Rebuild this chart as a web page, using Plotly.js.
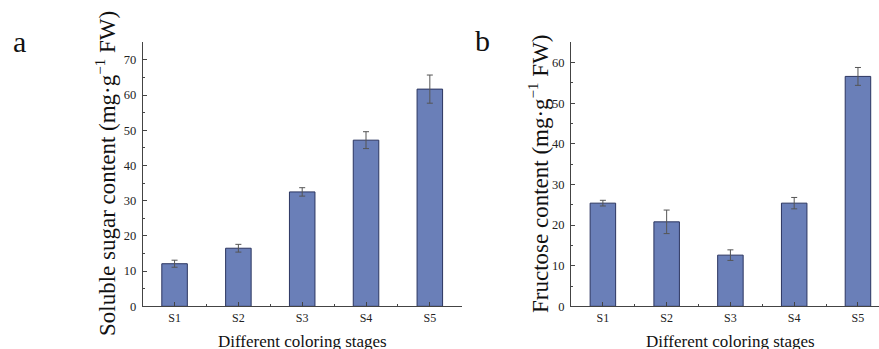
<!DOCTYPE html>
<html>
<head>
<meta charset="utf-8">
<script src="https://cdn.plot.ly/plotly-3.0.1.min.js"></script>
<style>html,body{margin:0;padding:0;background:#fff;}#chart{width:879px;height:349px;}</style>
</head>
<body>
<div id="chart"></div>
<script>
const stages = ["S1", "S2", "S3", "S4", "S5"];
const solubleSugar = [12.1, 16.5, 32.5, 47.2, 61.7];
const solubleSugarErr = [1.0, 1.1, 1.2, 2.4, 4.0];
const fructose = [25.4, 20.8, 12.6, 25.4, 56.6];
const fructoseErr = [0.7, 2.9, 1.3, 1.4, 2.2];

const idx = stages.map((s, i) => i);
const serif = "Liberation Serif, Times New Roman, serif";
const barColor = "#6a7fb8";
const lineColor = "#444";

function barTrace(vals, errs, xa, ya) {
  return {
    type: "bar", x: idx, y: vals, xaxis: xa, yaxis: ya, width: 0.4,
    marker: {color: barColor, line: {color: "#2b3560", width: 1}},
    error_y: {type: "data", array: errs, visible: true, color: "#555", thickness: 1, width: 3},
    showlegend: false, hoverinfo: "skip"
  };
}

function xAxis(domain, range, anchor) {
  return {
    domain: domain, range: range, anchor: anchor,
    tickmode: "array", tickvals: idx, ticktext: stages,
    ticks: "inside", ticklen: 4, tickcolor: lineColor, tickwidth: 1,
    minor: {tickmode: "linear", tick0: 0.5, dtick: 1, ticks: "inside", ticklen: 2, tickcolor: lineColor},
    showline: true, linecolor: lineColor, linewidth: 1,
    showgrid: false, zeroline: false,
    tickfont: {family: serif, size: 12, color: "#222"}
  };
}
function yAxis(domain, range, anchor) {
  return {
    domain: domain, range: range, anchor: anchor,
    dtick: 10, tick0: 0,
    ticks: "inside", ticklen: 4, tickcolor: lineColor, tickwidth: 1,
    minor: {dtick: 5, ticks: "inside", ticklen: 2, tickcolor: lineColor},
    showline: true, linecolor: lineColor, linewidth: 1,
    showgrid: false, zeroline: false,
    ticklabelstandoff: 3,
    tickfont: {family: serif, size: 12.5, color: "#222"}
  };
}

const yDom = [0.1223, 0.8788];
const layout = {
  width: 879, height: 349,
  margin: {l: 0, r: 0, t: 0, b: 0},
  paper_bgcolor: "#fff", plot_bgcolor: "#fff",
  bargap: 0.6,
  xaxis: xAxis([0.1623, 0.5253], [-0.5, 4.5], "y"),
  yaxis: yAxis(yDom, [0, 75], "x"),
  xaxis2: xAxis([0.6496, 1], [-0.5, 4.33], "y2"),
  yaxis2: yAxis(yDom, [0, 65], "x2"),
  annotations: [
    {text: "a", xref: "paper", yref: "paper", x: 19/879, y: 1 - 42/349, xanchor: "center", yanchor: "middle", showarrow: false, font: {family: serif, size: 30, color: "#111"}},
    {text: "b", xref: "paper", yref: "paper", x: 482/879, y: 1 - 40/349, xanchor: "center", yanchor: "middle", showarrow: false, font: {family: serif, size: 30, color: "#111"}},
    {text: "Soluble sugar content (mg·g<sup><span style='font-size:15px'>−1</span></sup> FW)", xref: "paper", yref: "paper", x: 106/879, y: 1 - 174/349, xanchor: "center", yanchor: "middle", textangle: -90, showarrow: false, font: {family: serif, size: 23, color: "#111"}},
    {text: "Fructose content (mg·g<sup><span style='font-size:15px'>−1</span></sup> FW)", xref: "paper", yref: "paper", x: 539/879, y: 1 - 174/349, xanchor: "center", yanchor: "middle", textangle: -90, showarrow: false, font: {family: serif, size: 23, color: "#111"}},
    {text: "Different coloring stages", xref: "paper", yref: "paper", x: 302/879, y: 1 - 341/349, xanchor: "center", yanchor: "middle", showarrow: false, font: {family: serif, size: 17, color: "#111"}},
    {text: "Different coloring stages", xref: "paper", yref: "paper", x: 730/879, y: 1 - 341/349, xanchor: "center", yanchor: "middle", showarrow: false, font: {family: serif, size: 17, color: "#111"}}
  ]
};

Plotly.newPlot("chart", [
  barTrace(solubleSugar, solubleSugarErr, "x", "y"),
  barTrace(fructose, fructoseErr, "x2", "y2")
], layout, {displayModeBar: false, staticPlot: true});
</script>
</body>
</html>
